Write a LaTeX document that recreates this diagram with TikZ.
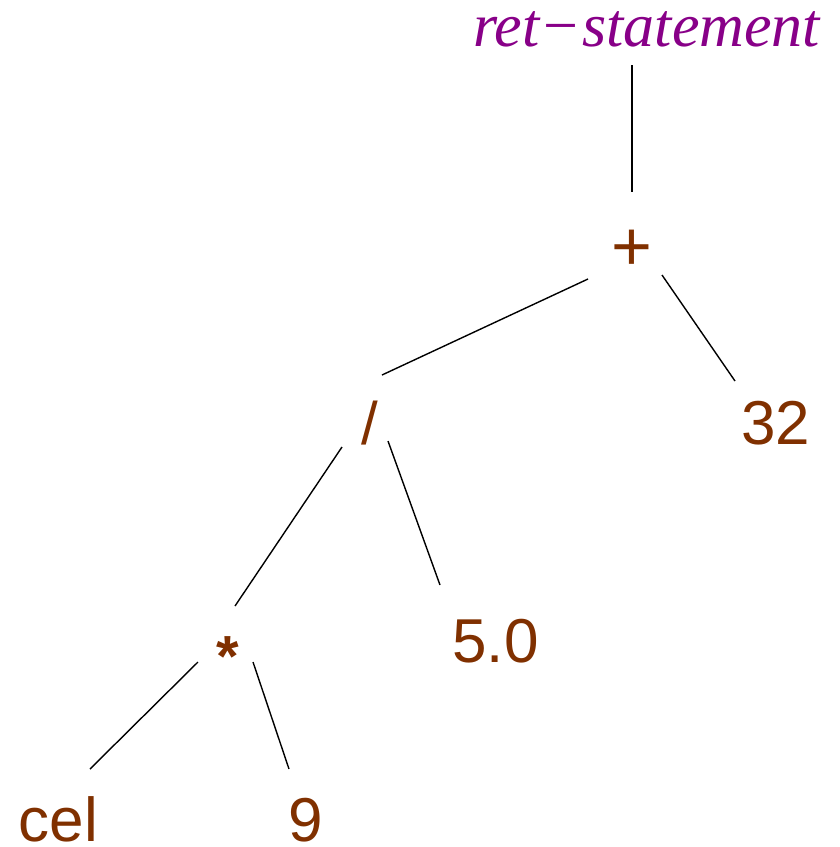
\documentclass[tikz,border=0pt]{standalone}
\usepackage{fontspec}
\setmainfont{Liberation Sans}
\newfontfamily\serifit{Liberation Serif}[UprightFont=* Italic]
\newfontfamily\serifup{Liberation Serif}
\definecolor{brn}{RGB}{128,48,0}
\definecolor{prp}{RGB}{136,0,136}
\begin{document}
\begin{tikzpicture}[x=1pt,y=-1pt,
  lbl/.style={inner sep=0pt,outer sep=0pt,text=brn,font=\fontsize{62}{70}\selectfont,anchor=base},
  edge/.style={draw=black,line width=1.4pt}]
\useasboundingbox (0,0) rectangle (839,847);
\node[inner sep=0pt,outer sep=0pt,text=prp,anchor=base west,
  font=\fontsize{62}{70}\serifit] (ret) at (473,46) {ret\kern4pt{\serifup −}\kern4pt statement};
\node[lbl,font=\fontsize{70}{70}\selectfont] (plus) at (632,270) {+};
\node[lbl,font=\fontsize{60}{70}\selectfont] (slash) at (370,444) {/};
\node[lbl] (n32) at (776,444) {32};
\node[lbl] (n50) at (495.5,662) {5.0};
\node[lbl,font=\fontsize{58}{70}\selectfont\bfseries] (star) at (228,676) {*};
\node[lbl] (cel) at (58.5,841) {cel};
\node[lbl] (nine) at (306,841) {9};
\draw[edge] ([shift={(159,19)}]ret.base west) -- ([shift={(0,-78)}]plus.base);
\draw[edge] ([shift={(-44,9)}]plus.base) -- ([shift={(12,-69)}]slash.base);
\draw[edge] ([shift={(30,5)}]plus.base) -- ([shift={(-41,-63)}]n32.base);
\draw[edge] ([shift={(-28,3)}]slash.base) -- ([shift={(7,-70)}]star.base);
\draw[edge] ([shift={(18,-3)}]slash.base) -- ([shift={(-55.5,-77)}]n50.base);
\draw[edge] ([shift={(-30,-14)}]star.base) -- ([shift={(31.5,-72)}]cel.base);
\draw[edge] ([shift={(25,-14)}]star.base) -- ([shift={(-17,-72)}]nine.base);
\end{tikzpicture}
\end{document}
